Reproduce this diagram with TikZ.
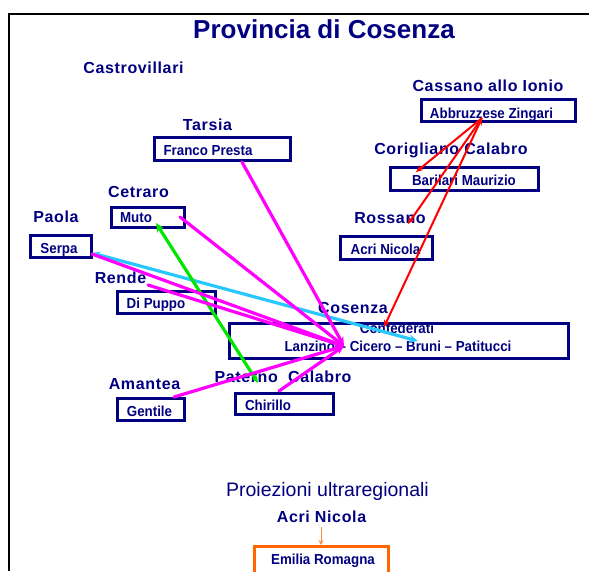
\documentclass[tikz,border=0pt]{standalone}
\usepackage{fontspec}
\setmainfont{Liberation Sans}
\newfontfamily\lblfont[LetterSpace=4]{Liberation Sans}
\newfontfamily\bxfont[FakeStretch=0.92]{Liberation Sans}
\usetikzlibrary{arrows.meta}
\definecolor{navy}{RGB}{0,0,128}
\definecolor{mag}{RGB}{255,0,255}
\definecolor{cy}{RGB}{40,200,255}
\definecolor{gr}{RGB}{0,230,0}
\definecolor{rd}{RGB}{255,0,0}
\definecolor{orng}{RGB}{255,102,0}
\definecolor{orngl}{RGB}{255,140,70}
\tikzset{
  lbl/.style={anchor=base, inner sep=0pt, text=navy, font=\lblfont\bfseries\fontsize{16}{18}\selectfont},
  bxt/.style={anchor=base, inner sep=0pt, text=navy, font=\bxfont\bfseries\fontsize{14.5}{16}\selectfont},
  bx/.style={draw=navy, line width=3pt, inner sep=0pt, outer sep=0pt},
  conn/.style={line width=3.2pt, line cap=round, -{Stealth[length=9pt,width=8pt]}},
  rconn/.style={line width=2pt, draw=rd, -{Stealth[length=7pt,width=6pt]}}
}
\begin{document}
\begin{tikzpicture}[x=1pt,y=-1pt]
\useasboundingbox (0,0) rectangle (589,571);
\clip (0,0) rectangle (589,571);
% frame
\draw[line width=2pt] (9,571) -- (9,14) -- (589,14);
% title
\node[anchor=base, inner sep=0pt, text=navy, font=\bfseries\fontsize{26}{30}\selectfont] (title) at (324,38) {Provincia di Cosenza};
% boxes
\node[bx, minimum width=154pt, minimum height=22pt] (abz) at (498.5,110.5) {};
\node[bx, minimum width=136pt, minimum height=23pt] (presta) at (222.5,149) {};
\node[bx, minimum width=73pt, minimum height=20pt] (muto) at (148,217.5) {};
\node[bx, minimum width=61pt, minimum height=22pt] (serpa) at (61,246.5) {};
\node[bx, minimum width=98pt, minimum height=22pt] (dipuppo) at (166.5,302.5) {};
\node[bx, minimum width=339pt, minimum height=35pt] (cos) at (399,341) {};
\node[bx, minimum width=67pt, minimum height=22pt] (gentile) at (151,409.5) {};
\node[bx, minimum width=98pt, minimum height=21pt] (chirillo) at (284.5,404) {};
\node[bx, minimum width=148pt, minimum height=23pt] (barilari) at (464.5,179) {};
\node[bx, minimum width=92pt, minimum height=23pt] (acri) at (386.5,248) {};
\node[bx, draw=orng, minimum width=134pt, minimum height=34pt] (emilia) at (321.5,563) {};
% box texts
\node[bxt] (tabz) at (491.5,118) {Abbruzzese Zingari};
\node[bxt] (tpresta) at (208,155) {Franco Presta};
\node[bxt] (tmuto) at (136,222) {Muto};
\node[bxt] (tserpa) at (59,253) {Serpa};
\node[bxt] (tdipuppo) at (156,308) {Di Puppo};
\node[bxt] (tgentile) at (149.5,416) {Gentile};
\node[bxt] (tchirillo) at (268,410) {Chirillo};
\node[bxt] (tbarilari) at (464,185) {Barilari Maurizio};
\node[bxt] (tacri) at (385.5,254) {Acri Nicola};
\node[bxt] (tconf) at (397,333) {Confederati};
\node[bxt] (tlanz) at (398,351) {Lanzino – Cicero – Bruni – Patitucci};
\node[bxt] (temilia) at (323,564) {Emilia Romagna};
% labels
\node[lbl] (castro) at (133.5,73) {Castrovillari};
\node[lbl] (tarsia) at (207.5,130) {Tarsia};
\node[lbl] (cetraro) at (138.5,197) {Cetraro};
\node[lbl] (paola) at (56,222) {Paola};
\node[lbl] (rende) at (120.5,283) {Rende};
\node[lbl] (amantea) at (144.5,389) {Amantea};
\node[lbl] (paterno) at (283,382) {Paterno\ \ Calabro};
\node[lbl] (cosenzaL) at (353,313) {Cosenza};
\node[lbl] (cassano) at (488,91) {Cassano allo Ionio};
\node[lbl] (corigliano) at (451,154) {Corigliano Calabro};
\node[lbl] (rossano) at (390,223) {Rossano};
\node[anchor=base, inner sep=0pt, text=navy, font=\fontsize{19.5}{22}\selectfont] (proiez) at (327.5,496) {Proiezioni ultraregionali};
\node[lbl] (acriL) at (321.5,522) {Acri Nicola};
% connector endpoints
\coordinate (pM) at (344,346);
\coordinate (pPresta) at (242,162);
\coordinate (pMuto) at (180,217);
\coordinate (pSerpa) at (92,254);
\coordinate (pRende) at (148,285);
\coordinate (pGentile) at (174,397);
\coordinate (pChir) at (279,391);
\coordinate (pCyA) at (92,253);
\coordinate (pCyB) at (418,341);
\coordinate (pGrA) at (258,383);
\coordinate (pGrB) at (156,223);
\coordinate (pA) at (482,118);
\coordinate (pBar) at (416,172);
\coordinate (pRos) at (408,224);
\coordinate (pConf) at (384,327);
\coordinate (pOrA) at (321,527);
\coordinate (pOrB) at (321,545);
% connectors
\draw[conn, draw=cy, {Stealth[length=8pt,width=7pt]}-{Stealth[length=9pt,width=8pt]}] (pCyA) -- (pCyB);
\draw[conn, draw=gr, {Stealth[length=7pt,width=6pt]}-{Stealth[length=9pt,width=8pt]}] (pGrA) -- (pGrB);
\draw[conn, draw=mag] (pPresta) -- (pM);
\draw[conn, draw=mag] (pMuto) -- (pM);
\draw[conn, draw=mag] (pSerpa) -- (pM);
\draw[conn, draw=mag] (pRende) -- (pM);
\draw[conn, draw=mag] (pGentile) -- (pM);
\draw[conn, draw=mag] (pChir) -- (pM);
\draw[rconn] (pA) -- (pBar);
\draw[rconn] (pA) -- (pRos);
\draw[rconn, {Stealth[length=7pt,width=6pt]}-{Stealth[length=7pt,width=6pt]}] (pA) -- (pConf);
\draw[draw=orngl, line width=1pt, -{Stealth[length=5pt,width=5pt]}] (pOrA) -- (pOrB);
\end{tikzpicture}
\end{document}
